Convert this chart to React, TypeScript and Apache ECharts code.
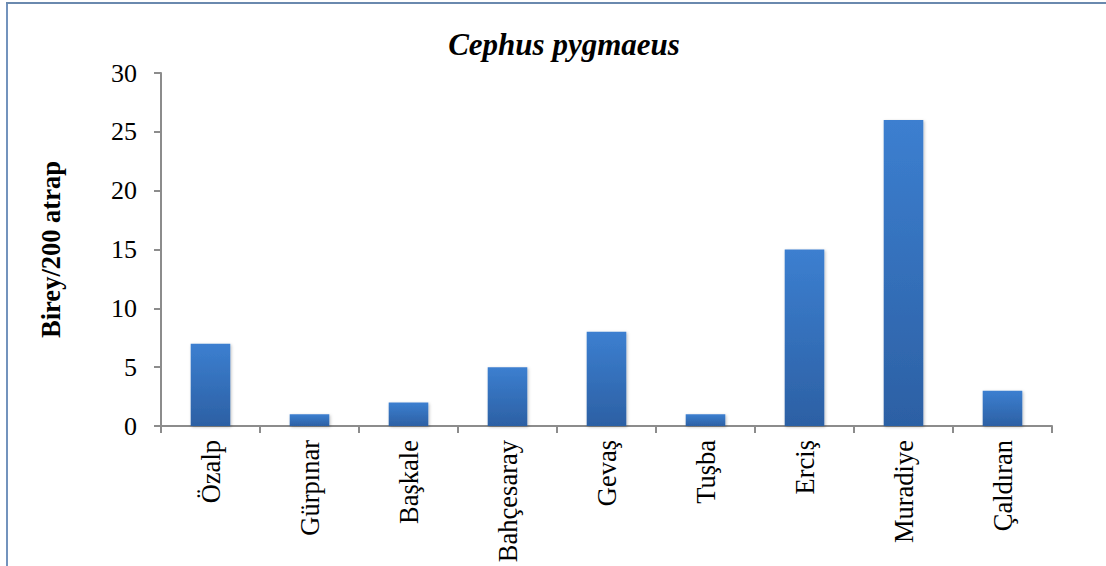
import React, { useEffect, useRef } from "react";
import * as echarts from "echarts";

// Cephus pygmaeus counts per district (individuals / 200 sweeps)
const districts = ["Özalp", "Gürpınar", "Başkale", "Bahçesaray", "Gevaş", "Tuşba", "Erciş", "Muradiye", "Çaldıran"];
const counts = [7, 1, 2, 5, 8, 1, 15, 26, 3];
const yTicks = { min: 0, max: 30, interval: 5 };

const serif = '"Liberation Serif", "Times New Roman", serif';

export default function App() {
  const ref = useRef<HTMLDivElement>(null);

  useEffect(() => {
    if (!ref.current) return;
    const chart = echarts.init(ref.current, undefined, { renderer: "svg" });
    chart.setOption({
      animation: false,
      backgroundColor: "#ffffff",
      title: {
        text: "Cephus pygmaeus",
        left: 559,
        top: 24,
        textAlign: "center",
        textStyle: {
          fontFamily: serif,
          fontSize: 31,
          fontWeight: "bold",
          fontStyle: "italic",
          color: "#000",
        },
      },
      graphic: [
        {
          type: "line",
          shape: { x1: 7, y1: 3, x2: 7, y2: 566 },
          style: { stroke: "#7393bd", lineWidth: 2 },
        },
        {
          type: "line",
          shape: { x1: 6, y1: 3, x2: 1106, y2: 3 },
          style: { stroke: "#6a89ae", lineWidth: 2 },
        },
      ],
      grid: {
        left: 161,
        right: 54,
        top: 73,
        bottom: 140,
        containLabel: false,
        outerBoundsMode: "none",
      },
      xAxis: {
        type: "category",
        data: districts,
        axisLine: { lineStyle: { color: "#8c8c8c", width: 2 } },
        axisTick: { show: true, length: 7, lineStyle: { color: "#8c8c8c", width: 2 } },
        axisLabel: {
          rotate: 90,
          margin: 14,
          interval: 0,
          fontFamily: serif,
          fontSize: 26.5,
          color: "#000",
        },
      },
      yAxis: {
        type: "value",
        min: yTicks.min,
        max: yTicks.max,
        interval: yTicks.interval,
        name: "Birey/200 atrap",
        nameLocation: "middle",
        nameGap: 110,
        nameTextStyle: {
          fontFamily: serif,
          fontSize: 26.5,
          fontWeight: "bold",
          color: "#000",
          verticalAlign: "middle",
        },
        axisLine: { show: true, lineStyle: { color: "#8c8c8c", width: 2 } },
        axisTick: { show: true, length: 7, lineStyle: { color: "#8c8c8c", width: 2 } },
        splitLine: { show: false },
        axisLabel: {
          margin: 24,
          fontFamily: serif,
          fontSize: 26,
          color: "#000",
        },
      },
      series: [
        {
          type: "bar",
          data: counts,
          barWidth: "40%",
          itemStyle: {
            color: new echarts.graphic.LinearGradient(0, 0, 0, 1, [
              { offset: 0, color: "#3c7fd0" },
              { offset: 1, color: "#2c60a4" },
            ]),
            shadowBlur: 3,
            shadowColor: "rgba(0,0,0,0.25)",
            shadowOffsetX: 1,
            shadowOffsetY: 1,
          },
        },
      ],
    });
    return () => chart.dispose();
  }, []);

  return (
    <div
      ref={ref}
      style={{ position: "fixed", left: 0, top: 0, width: 1106, height: 566 }}
    />
  );
}
